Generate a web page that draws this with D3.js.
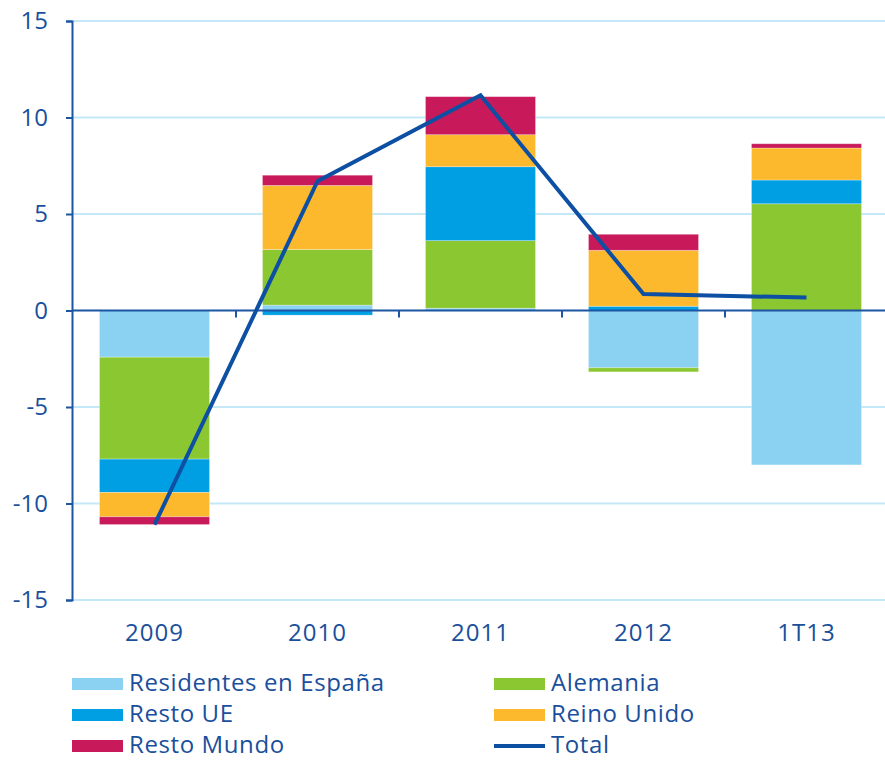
<!DOCTYPE html>
<html>
<head>
<meta charset="utf-8">
<script src="https://cdn.jsdelivr.net/npm/d3@7"></script>
<style>
  body { margin: 0; background: #fff; overflow: hidden; }
  text { font-family: "Open Sans", sans-serif; fill: #1a4f9c; }
</style>
</head>
<body>
<div id="chart"></div>
<script>
// categorías y series
const categories = ["2009", "2010", "2011", "2012", "1T13"];
const residentes = [-2.42, 0.28, 0.12, -2.97, -8.0];
const alemania   = [-5.28, 2.88, 3.50, -0.21, 5.53];
const restoUE    = [-1.73, -0.24, 3.83, 0.22, 1.23];
const reinoUnido = [-1.26, 3.32, 1.66, 2.90, 1.66];
const restoMundo = [-0.40, 0.53, 1.97, 0.83, 0.22];
const total      = [-11.1, 6.7, 11.15, 0.85, 0.67];
const yTicks = [-15, -10, -5, 0, 5, 10, 15];

const seriesNames = ["Residentes en España", "Alemania", "Resto UE", "Reino Unido", "Resto Mundo"];
const seriesValues = [residentes, alemania, restoUE, reinoUnido, restoMundo];
const colors = ["#8bd1f2", "#8bc731", "#009fe3", "#fdb92d", "#c8195b"];
const lineColor = "#0d4fa3";
const axisColor = "#1c55a2";
const gridColor = "#c4e8f8";
const textColor = "#1a4f9c";

// tabla para d3.stack
const table = categories.map((c, i) => {
  const row = { cat: c };
  seriesNames.forEach((s, j) => { row[s] = seriesValues[j][i]; });
  return row;
});

const W = 885, H = 760;
const plotLeft = 72, plotRight = 888, plotTop = 21, plotBottom = 600;

const svg = d3.select("#chart").append("svg")
  .attr("width", W).attr("height", H)
  .style("display", "block");

const x = d3.scaleBand()
  .domain(categories)
  .range([plotLeft + 1, plotRight])
  .paddingInner(0.325)
  .paddingOuter(0.1625);

const y = d3.scaleLinear().domain([-15, 15]).range([plotBottom, plotTop]);

// líneas de cuadrícula
svg.append("g")
  .selectAll("line")
  .data(yTicks.filter(d => d !== 0))
  .enter().append("line")
  .attr("x1", plotLeft).attr("x2", W)
  .attr("y1", d => y(d)).attr("y2", d => y(d))
  .attr("stroke", gridColor).attr("stroke-width", 2);

// barras apiladas
const stacked = d3.stack()
  .keys(seriesNames)
  .offset(d3.stackOffsetDiverging)(table);

svg.append("g")
  .selectAll("g")
  .data(stacked)
  .enter().append("g")
  .attr("fill", (d, i) => colors[i])
  .selectAll("rect")
  .data(d => d)
  .enter().append("rect")
  .attr("x", d => x(d.data.cat))
  .attr("width", x.bandwidth())
  .attr("y", d => y(Math.max(d[0], d[1])))
  .attr("height", d => Math.abs(y(d[0]) - y(d[1])))
  .attr("stroke", "#ffffff")
  .attr("stroke-opacity", 0.35)
  .attr("stroke-width", 0.8);

// eje x en cero
const xAxisG = svg.append("g");
xAxisG.append("line")
  .attr("x1", plotLeft).attr("x2", W)
  .attr("y1", y(0)).attr("y2", y(0))
  .attr("stroke", axisColor).attr("stroke-width", 2);

const step = x.step();
xAxisG.selectAll(".xtick")
  .data(categories.slice(1))
  .enter().append("line")
  .attr("x1", d => x(d) + x.bandwidth() / 2 - step / 2)
  .attr("x2", d => x(d) + x.bandwidth() / 2 - step / 2)
  .attr("y1", y(0)).attr("y2", y(0) + 7)
  .attr("stroke", axisColor).attr("stroke-width", 2);

// etiquetas de categorías
svg.append("g")
  .selectAll("text")
  .data(categories)
  .enter().append("text")
  .attr("x", d => x(d) + x.bandwidth() / 2)
  .attr("y", 641)
  .attr("text-anchor", "middle")
  .attr("font-size", 24)
  .attr("letter-spacing", 1)
  .text(d => d);

// eje y
const yAxis = d3.axisLeft(y)
  .tickValues(yTicks)
  .tickFormat(d => String(d))
  .tickSize(6)
  .tickPadding(18);
const yG = svg.append("g")
  .attr("transform", `translate(${plotLeft},0)`)
  .call(yAxis);
yG.select(".domain").attr("stroke", axisColor).attr("stroke-width", 2);
yG.selectAll(".tick line").attr("stroke", axisColor).attr("stroke-width", 2);
yG.selectAll(".tick text")
  .attr("font-size", 24)
  .attr("font-family", "Open Sans, sans-serif")
  .attr("fill", textColor);

// línea total
const line = d3.line()
  .x((d, i) => x(categories[i]) + x.bandwidth() / 2)
  .y(d => y(d));

svg.append("path")
  .datum(total)
  .attr("d", line)
  .attr("fill", "none")
  .attr("stroke", lineColor)
  .attr("stroke-width", 4);

// leyenda
const legendItems = [
  { name: "Residentes en España", color: colors[0], type: "rect" },
  { name: "Alemania", color: colors[1], type: "rect" },
  { name: "Resto UE", color: colors[2], type: "rect" },
  { name: "Reino Unido", color: colors[3], type: "rect" },
  { name: "Resto Mundo", color: colors[4], type: "rect" },
  { name: "Total", color: lineColor, type: "line" }
];

const legend = svg.append("g");
legendItems.forEach((item, i) => {
  const col = i % 2, row = Math.floor(i / 2);
  const lx = col === 0 ? 72 : 494;
  const ly = 684 + row * 31;
  const g = legend.append("g").attr("transform", `translate(${lx},${ly})`);
  if (item.type === "rect") {
    g.append("rect").attr("x", 0).attr("y", -6).attr("width", 51).attr("height", 12)
      .attr("fill", item.color);
  } else {
    g.append("line").attr("x1", 0).attr("x2", 51).attr("y1", 0).attr("y2", 0)
      .attr("stroke", item.color).attr("stroke-width", 4);
  }
  g.append("text")
    .attr("x", 57).attr("y", 7)
    .attr("font-size", 24)
    .attr("letter-spacing", 0.6)
    .text(item.name);
});
</script>
</body>
</html>
